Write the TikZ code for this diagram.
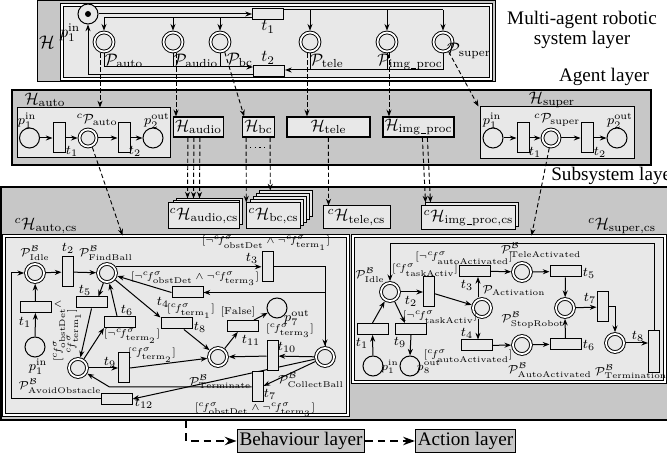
\documentclass[tikz,border=0pt]{standalone}
\usepackage{fontspec}
\newfontfamily\layerfont{Liberation Serif}
\usetikzlibrary{arrows.meta,calc}

\newlength{\pxu}
\setlength{\pxu}{0.6pt}
\definecolor{boxdark}{gray}{0.78}
\definecolor{boxlight}{gray}{0.91}

\newcommand\netfont{\fontsize{8}{9}\selectfont}
\newcommand\plfont{\fontsize{7}{8}\selectfont}
\newcommand\guardfont{\fontsize{6}{7}\selectfont}
\newcommand\toplayerfont{\layerfont\fontsize{11.5}{12.5}\selectfont}
\newcommand\gcf[1]{{}^{c}\!f^{\sigma}_{\mathrm{#1}}}
\newcommand\usc{\kern0.04em\rule[-0.1ex]{0.3em}{0.06ex}\kern0.04em}

\pgfdeclarelayer{boxes}
\pgfdeclarelayer{edges}
\pgfsetlayers{boxes,edges,main}

\tikzset{
  arr/.style={line width=0.6pt, -{Stealth[length=4pt,width=3pt]}},
  plain/.style={line width=0.6pt},
  link/.style={line width=0.55pt, dash pattern=on 2.6pt off 1.6pt, -{Stealth[length=4pt,width=3pt]}},
  bigdash/.style={line width=1.1pt, dash pattern=on 4.5pt off 3pt, -{Stealth[length=7pt,width=5pt]}},
  pl/.style={circle, draw, fill=boxlight, line width=0.6pt, minimum size=20*\pxu, inner sep=0pt},
  cpl/.style={circle, draw, double, double distance=1.1pt, fill=boxlight, line width=0.55pt, minimum size=18*\pxu, inner sep=0pt, outer sep=1.1pt},
  trh/.style={rectangle, draw, fill=boxlight, line width=0.6pt, minimum width=31*\pxu, minimum height=11*\pxu, inner sep=0pt},
  trv/.style={rectangle, draw, fill=boxlight, line width=0.6pt, minimum width=11*\pxu, minimum height=30*\pxu, inner sep=0pt},
  hbox/.style={rectangle, draw, fill=boxlight, line width=0.7pt, minimum height=20*\pxu, inner sep=1pt},
  csbox/.style={rectangle, draw, fill=boxlight, line width=0.6pt, inner sep=1pt},
  frame/.style={rectangle, draw, inner sep=0pt},
  lbl/.style={inner sep=0pt, font=\netfont},
  plbl/.style={inner sep=0pt, font=\plfont},
  grd/.style={inner sep=0pt, font=\guardfont},
  big/.style={inner sep=0pt},
  layertag/.style={inner sep=0pt, font=\toplayerfont},
  layerbox/.style={rectangle, draw, fill=boxdark, line width=0.6pt, font=\toplayerfont, inner sep=1.5pt, minimum height=22*\pxu},
}

\begin{document}
\begin{tikzpicture}[x=0.6pt, y=-0.6pt]
\useasboundingbox (0,0) rectangle (667,459);

% ---------- frames ----------
\begin{pgfonlayer}{boxes}
  \node[frame, fill=boxdark, line width=0.6pt, minimum width=458*\pxu, minimum height=81*\pxu] (masframe) at (266,41.5) {};
  \node[frame, double, double distance=1pt, fill=boxlight, line width=0.5pt, minimum width=429*\pxu, minimum height=74*\pxu] (masnet) at (276.5,42) {};
  \node[frame, fill=boxdark, line width=0.8pt, minimum width=639*\pxu, minimum height=75*\pxu] (agframe) at (331.5,127.5) {};
  \node[frame, fill=boxlight, line width=0.6pt, minimum width=153*\pxu, minimum height=50*\pxu] (hautobox) at (93.5,133) {};
  \node[frame, fill=boxlight, line width=0.6pt, minimum width=154*\pxu, minimum height=52*\pxu] (hsuperbox) at (557,133) {};
  \node[frame, fill=boxdark, line width=0.8pt, minimum width=676*\pxu, minimum height=233*\pxu] (subframe) at (339,303.5) {};
  \node[frame, double, double distance=1pt, fill=boxlight, line width=0.5pt, minimum width=344*\pxu, minimum height=179*\pxu] (autocs) at (176,325.5) {};
  \node[frame, double, double distance=1pt, fill=boxlight, line width=0.5pt, minimum width=312*\pxu, minimum height=146*\pxu] (supercs) at (509,309) {};
\end{pgfonlayer}

% ---------- layer captions ----------
\node[layertag, align=center] (tmulti) at (582,30) {Multi-agent robotic\\system layer};
\node[layertag] (tagent) at (604,77) {Agent layer};
\node[layertag, anchor=west] (tsub) at (551,176) {Subsystem layer};

% ---------- multi-agent robotic system net ----------
\node[big, font=\fontsize{10.95}{12}\selectfont] (lH) at (47,42) {$\mathcal{H}$};
\node[pl] (p1) at (88,14) {};
\fill (p1.center) circle [radius=1.8pt];
\node[cpl, minimum size=19*\pxu] (pauto) at (104,42) {};
\node[cpl, minimum size=19*\pxu] (paudio) at (173,42) {};
\node[cpl, minimum size=19*\pxu] (pbc) at (220,42) {};
\node[cpl, minimum size=19*\pxu] (ptele) at (310,42) {};
\node[cpl, minimum size=19*\pxu] (pimg) at (387,42) {};
\node[cpl, minimum size=19*\pxu] (psuper) at (443,42) {};
\node[trh] (mt1) at (268,14) {};
\node[trh] (mt2) at (269,71) {};

\node[big] (lpin) at (70,33) {$p^{\mathrm{in}}_1$};
\node[big] (lmt1) at (268,27) {$t_1$};
\node[big] (lmt2) at (268,58) {$t_2$};
\node[big] (lpauto) at (124,61) {$\mathcal{P}_{\mathrm{auto}}$};
\node[big] (lpaudio) at (196,61) {$\mathcal{P}_{\mathrm{audio}}$};
\node[big] (lpbc) at (240,60) {$\mathcal{P}_{\mathrm{bc}}$};
\node[big] (lptele) at (327,61) {$\mathcal{P}_{\mathrm{tele}}$};
\node[big] (lpimg) at (410,62) {$\mathcal{P}_{\mathrm{img\usc proc}}$};
\node[big] (lpsuper) at (469,51) {$\mathcal{P}_{\mathrm{super}}$};

% ---------- agent layer ----------
\node[big] (lHauto) at (45,100) {$\mathcal{H}_{\mathrm{auto}}$};
\node[big] (lHsuper) at (552,100) {$\mathcal{H}_{\mathrm{super}}$};

\node[pl] (ap1) at (29.5,138) {};
\node[trv, minimum width=12*\pxu] (at1) at (59,138) {};
\node[cpl, minimum size=17*\pxu] (acp) at (88,138) {};
\node[trv, minimum width=12*\pxu] (at2) at (124,138) {};
\node[pl] (ap2) at (153,138) {};
\node[lbl] (lap1) at (27,121) {$p^{\mathrm{in}}_1$};
\node[lbl] (lat1) at (72,151) {$t_1$};
\node[lbl] (lacp) at (97,120) {${}^{c}\mathcal{P}_{\mathrm{auto}}$};
\node[lbl] (lat2) at (135,151) {$t_2$};
\node[lbl] (lap2) at (157,121) {$p^{\mathrm{out}}_2$};

\node[pl] (sp1) at (493,138) {};
\node[trv, minimum width=12*\pxu] (st1) at (523,138) {};
\node[cpl, minimum size=17*\pxu] (scp) at (551,138) {};
\node[trv, minimum width=12*\pxu] (st2) at (587,138) {};
\node[pl] (sp2) at (617,138) {};
\node[lbl] (lsp1) at (492,121) {$p^{\mathrm{in}}_1$};
\node[lbl] (lst1) at (535,152) {$t_1$};
\node[lbl] (lscp) at (557,120) {${}^{c}\mathcal{P}_{\mathrm{super}}$};
\node[lbl] (lst2) at (600,152) {$t_2$};
\node[lbl] (lsp2) at (620,121) {$p^{\mathrm{out}}_2$};

\node[hbox, minimum width=45*\pxu] (haudio) at (198.5,127) {$\mathcal{H}_{\mathrm{audio}}$};
\node[hbox, minimum width=31*\pxu] (hbc) at (258.5,127) {$\mathcal{H}_{\mathrm{bc}}$};
\node[hbox, minimum width=83*\pxu] (htele) at (328.5,127) {$\mathcal{H}_{\mathrm{tele}}$};
\node[hbox, minimum width=65*\pxu] (himg) at (418.5,127) {$\mathcal{H}_{\mathrm{img\usc proc}}$};

% ---------- subsystem stacks ----------
\foreach \k in {2,1}
  \draw[fill=boxlight, line width=0.6pt] ($(171,203)+(2.5*\k,-2*\k)$) rectangle +(66,26);
\node[csbox, minimum width=66*\pxu, minimum height=26*\pxu] (csaudio) at (204,216) {${}^{c}\mathcal{H}_{\mathrm{audio,cs}}$};
\foreach \k in {4,3,2,1}
  \draw[fill=boxlight, line width=0.6pt] ($(247,203)+(3*\k,-3*\k)$) rectangle +(53,26);
\node[csbox, minimum width=53*\pxu, minimum height=26*\pxu] (csbc) at (273.5,216) {${}^{c}\mathcal{H}_{\mathrm{bc,cs}}$};
\node[csbox, minimum width=67*\pxu, minimum height=23*\pxu] (cstele) at (356.5,217.5) {${}^{c}\mathcal{H}_{\mathrm{tele,cs}}$};
\draw[fill=boxlight, line width=0.6pt] ($(422,206)+(3,-3)$) rectangle +(93,24);
\node[csbox, minimum width=93*\pxu, minimum height=24*\pxu] (csimg) at (468.5,218) {${}^{c}\mathcal{H}_{\mathrm{img\usc proc,cs}}$};

\node[big] (lautocs) at (46,226) {${}^{c}\mathcal{H}_{\mathrm{auto,cs}}$};
\node[big] (lsupercs) at (622,226) {${}^{c}\mathcal{H}_{\mathrm{super,cs}}$};

% ---------- behaviour net of the auto agent ----------
\node[cpl] (idle) at (35,273) {};
\node[trv] (t2) at (67.5,272) {};
\node[cpl] (fb) at (107,273) {};
\node[trh] (t1) at (35.5,307) {};
\node[pl] (ip1) at (35,347) {};
\node[trh] (t5) at (91.5,302.5) {};
\node[trh] (t6) at (120,322) {};
\node[cpl] (avoid) at (78,368) {};
\node[trh] (t4) at (187.5,292.5) {};
\node[trv] (t3) at (267.5,267) {};
\node[trh] (t8) at (176.5,323.5) {};
\node[trh] (t11) at (242.5,326) {};
\node[pl] (p7) at (277,308) {};
\node[cpl] (term) at (218,357) {};
\node[trv] (t10) at (272.5,356) {};
\node[cpl] (cb) at (325,357) {};
\node[trv] (t9) at (124,368) {};
\node[trv] (t7) at (257.5,387) {};
\node[trh] (t12) at (116.5,399) {};

\node[plbl] (lidle) at (35,253) {$\mathcal{P}^{\mathcal{B}}_{\mathrm{Idle}}$};
\node[plbl] (lfb) at (106,253) {$\mathcal{P}^{\mathcal{B}}_{\mathrm{FindBall}}$};
\node[plbl] (lavoid) at (60,386) {$\mathcal{P}^{\mathcal{B}}_{\mathrm{AvoidObstacle}}$};
\node[plbl] (lterm) at (220,382) {$\mathcal{P}^{\mathcal{B}}_{\mathrm{Terminate}}$};
\node[plbl] (lcb) at (311,380) {$\mathcal{P}^{\mathcal{B}}_{\mathrm{CollectBall}}$};
\node[lbl] (lip1) at (38,367) {$p^{\mathrm{in}}_1$};
\node[lbl] (lp7) at (297,318) {$p^{\mathrm{out}}_7$};
\node[lbl] (lt1) at (25,322) {$t_1$};
\node[lbl] (lt2) at (68,248) {$t_2$};
\node[lbl] (lt3) at (252,258) {$t_3$};
\node[lbl] (lt4) at (163,302) {$t_4$};
\node[lbl] (lt5) at (85,290) {$t_5$};
\node[lbl] (lt6) at (127,310) {$t_6$};
\node[lbl] (lt7) at (270,394) {$t_7$};
\node[lbl] (lt8) at (200,327) {$t_8$};
\node[lbl] (lt9) at (110,362) {$t_9$};
\node[lbl] (lt10) at (287,347) {$t_{10}$};
\node[lbl] (lt11) at (251,340) {$t_{11}$};
\node[lbl] (lt12) at (144,403) {$t_{12}$};

\node[grd] (g3) at (266,243) {$[\neg\gcf{obstDet}\wedge\neg\gcf{term_1}]$};
\node[grd] (g4) at (195,279) {$[\neg\gcf{obstDet}\wedge\neg\gcf{term_3}]$};
\node[grd] (g8) at (191,311) {$[\gcf{term_1}]$};
\node[grd] (g11) at (238,312) {$[\mathrm{False}]$};
\node[grd] (g10) at (290,331) {$[\gcf{term_3}]$};
\node[grd] (g6) at (132,336) {$[\neg\gcf{term_2}]$};
\node[grd] (g9) at (152,355) {$[\gcf{term_2}]$};
\node[grd] (g7) at (255,410) {$[\gcf{obstDet}\wedge\neg\gcf{term_3}]$};
\node[grd, rotate=90, align=center] (g5) at (67,331) {$[\gcf{obstDet}\wedge$\\$\gcf{term_1}]$};

% ---------- behaviour net of the supervisor agent ----------
\node[cpl] (idle2) at (390,292) {};
\node[trv] (t2b) at (429,292) {};
\node[cpl] (act) at (482,308) {};
\node[trh] (t3b) at (475,271) {};
\node[cpl] (tele) at (522,272) {};
\node[trh] (t5b) at (565.5,271.5) {};
\node[cpl] (stop) at (565,308) {};
\node[trv] (t7b) at (602.5,307) {};
\node[cpl] (term2) at (615,343) {};
\node[trv, minimum height=42*\pxu] (t8b) at (654,352) {};
\node[trh] (t4b) at (477,345.5) {};
\node[cpl] (auto) at (522,345) {};
\node[trh] (t6b) at (565.5,344) {};
\node[trh] (t1b) at (372.5,329) {};
\node[pl] (p1b) at (373,366) {};
\node[trh] (t9b) at (411,329) {};
\node[pl] (p8) at (410,366) {};

\node[plbl] (lidle2) at (370,275) {$\mathcal{P}^{\mathcal{B}}_{\mathrm{Idle}}$};
\node[grd] (g2b) at (425,270) {$[\gcf{taskActiv}]$};
\node[lbl] (lt2b) at (411,301) {$t_2$};
\node[plbl] (lact) at (514,291) {$\mathcal{P}_{\mathrm{Activation}}$};
\node[grd] (g3b) at (464,258) {$[\neg\gcf{autoActivated}]$};
\node[lbl] (lt3b) at (467,285) {$t_3$};
\node[plbl] (ltele) at (541,250) {$\mathcal{P}^{\mathcal{B}}_{\mathrm{TeleActivated}}$};
\node[lbl] (lt5b) at (589,273) {$t_5$};
\node[plbl] (lstop) at (533,320) {$\mathcal{P}^{\mathcal{B}}_{\mathrm{StopRobot}}$};
\node[lbl] (lt7b) at (590,298) {$t_7$};
\node[plbl] (lterm2) at (631,372) {$\mathcal{P}^{\mathcal{B}}_{\mathrm{Termination}}$};
\node[lbl] (lt8b) at (638,336) {$t_8$};
\node[grd] (g4b) at (468,356) {$[\gcf{autoActivated}]$};
\node[lbl] (lt4b) at (467,333) {$t_4$};
\node[plbl] (lauto) at (550,370) {$\mathcal{P}^{\mathcal{B}}_{\mathrm{AutoActivated}}$};
\node[lbl] (lt6b) at (589,345) {$t_6$};
\node[lbl] (lt1b) at (362,343) {$t_1$};
\node[plbl] (lp1b) at (390,367) {$p^{\mathrm{in}}_1$};
\node[lbl] (lt9b) at (400,342) {$t_9$};
\node[grd] (g9b) at (440,317) {$[\neg\gcf{taskActiv}]$};
\node[plbl] (lp8) at (429,367) {$p^{\mathrm{out}}_8$};

% ---------- lower layers ----------
\node[layerbox] (behl) at (301,441) {Behaviour layer};
\node[layerbox] (actl) at (465.5,441) {Action layer};

% ---------- connectors ----------
\begin{pgfonlayer}{edges}
  % multi-agent net
  \draw[arr] (p1) -- (mt1);
  \coordinate (tr) at ($(mt1.east)+(0,-4)$);
  \coordinate (tl) at ($(mt1.east)+(0,4)$);
  \draw[plain] (tr) -- (tr -| psuper);
  \foreach \p in {ptele,pimg,psuper} \draw[arr] (tr -| \p) -- (\p.north);
  \draw[plain] (tl) -- (tl -| pauto);
  \foreach \p in {pauto,paudio,pbc} \draw[arr] (tl -| \p) -- (\p.north);
  \coordinate (bl) at ($(mt2.west)+(0,-4)$);
  \coordinate (br) at ($(mt2.east)+(0,-1)$);
  \coordinate (bo) at ($(mt2.west)+(0,4)$);
  \foreach \p in {pauto,paudio,pbc} \draw[plain] (\p.south) -- (\p.south |- bl);
  \draw[arr] (bl -| pauto) -- (bl);
  \foreach \p in {ptele,pimg,psuper} \draw[plain] (\p.south) -- (\p.south |- br);
  \draw[arr] (br -| psuper) -- (br);
  \draw[arr] (bo) -| (p1.south);

  % refinement links: system -> agents
  \coordinate (d1) at ($(pauto.south)+(-4,0)$);
  \draw[link] (d1) -- (d1 |- hautobox.north);
  \coordinate (d2) at ($(paudio.south)+(3,0)$);
  \draw[link] (d2) -- (d2 |- haudio.north);
  \draw[link] (pbc.295) -- ($(hbc.north west)+(2,0)$);
  \coordinate (d4) at ($(ptele.south)+(-3,0)$);
  \draw[link] (d4) -- (d4 |- htele.north);
  \coordinate (d5) at ($(pimg.south)+(2,0)$);
  \draw[link] (d5) -- (d5 |- himg.north);
  \draw[link] (psuper.300) -- ($(hsuperbox.north west)+(-1,0)$);

  % agent nets
  \draw[arr] (ap1) -- (at1);
  \draw[arr] (at1) -- (acp);
  \draw[arr] (acp) -- (at2);
  \draw[arr] (at2) -- (ap2);
  \draw[arr] (sp1) -- (st1);
  \draw[arr] (st1) -- (scp);
  \draw[arr] (scp) -- (st2);
  \draw[arr] (st2) -- (sp2);

  % refinement links: agents -> subsystems
  \foreach \a/\b in {15/20,21/26,27/32}
    \draw[link] ($(haudio.south west)+(\a,0)$) -- ($(csaudio.north west)+(\b,-4)$);
  \draw[link] ($(hbc.south west)+(4,0)$) -- (csbc.north west);
  \draw[link] ($(hbc.south west)+(28,0)$) -- ($(csbc.north west)+(24,-12)$);
  \draw[dotted, line width=0.8pt] ($(hbc.south west)+(8,10)$) -- ($(hbc.south west)+(24,10)$);
  \draw[link] ($(htele.south west)+(42,0)$) -- ($(cstele.north west)+(6,0)$);
  \draw[link] ($(himg.south west)+(40,0)$) -- ($(csimg.north west)+(4,-3)$);
  \draw[link] ($(himg.south west)+(45,0)$) -- ($(csimg.north west)+(9,-3)$);
  \draw[link] (acp.-65) -- ($(autocs.north west)+(119,0)$);
  \draw[link] (scp.-100) -- ($(supercs.north west)+(179,0)$);

  % auto behaviour net
  \draw[arr] (ip1) -- (t1);
  \draw[arr] (t1) -- (idle);
  \draw[arr] (idle) -- (t2);
  \draw[arr] (t2) -- (fb);
  \draw[arr] (fb) -- ($(t5.north east)+(-9,0)$);
  \draw[arr] (t5.south) -- (avoid);
  \draw[arr] (avoid) -- (t6.south west);
  \draw[arr] ($(t6.north)+(-3,0)$) -- (fb);
  \draw[arr] (avoid) -- (t9.west);
  \draw[arr] (t9.east) -- (term);
  \draw[arr] (fb) -- (t8.north west);
  \draw[arr] (t8) -- (term);
  \draw[arr] (fb.35) -- (fb.35 -| t3.west);
  \draw[arr] (t3.east) -| (cb.north);
  \draw[arr] (cb.north) |- (t4.east);
  \draw[arr] (t4.west) -- (fb);
  \draw[arr] (cb) -- (t10);
  \draw[arr] (t10) -- (term);
  \draw[arr] (term) -- (t11);
  \draw[arr] (t11) -- (p7);
  \draw[arr] (cb) -- (t7.10);
  \coordinate (bend7) at ($(t12.north west)+(9,-6.5)$);
  \draw[arr] (t7.west) -- (t7.west -| bend7) -- (avoid);
  \draw[arr] (cb) -- (t12.east);
  \draw[arr] (t12.west) -- ++(-89.5,0) |- (idle.west);

  % supervisor behaviour net
  \draw[arr] (idle2) -- (t2b);
  \draw[arr] (t2b) -- (act);
  \coordinate (a3) at ($(act.north)+(-4,0)$);
  \draw[arr] (a3) -- (a3 |- t3b.south);
  \draw[arr] (t3b) -- (tele);
  \draw[arr] (tele) -- (t5b);
  \draw[arr] (t5b) -- (stop);
  \draw[arr] (stop) -- (t7b);
  \draw[arr] (t7b.east) -| (term2.north);
  \draw[arr] (term2) -- (term2 -| t8b.west);
  \coordinate (ltop) at ($(idle2.north)+(0,-38)$);
  \draw[arr] (t8b.north) |- (ltop) -- (idle2.north);
  \coordinate (a4) at ($(act.south)+(-4,0)$);
  \draw[arr] (a4) -- (a4 |- t4b.north);
  \draw[arr] (t4b) -- (auto);
  \draw[arr] (auto) -- (t6b);
  \draw[arr] (t6b.north) -- (stop.south);
  \draw[arr] (p1b) -- (t1b);
  \draw[arr] (t1b.north) -- (idle2);
  \draw[arr] (idle2) -- ($(t9b.north)+(-6,0)$);
  \draw[arr] (t9b.south) -- (p8.north);

  % towards the lower layers
  \coordinate (bstart) at ($(subframe.south west)+(186,0)$);
  \draw[bigdash] (bstart) |- (behl.west);
  \draw[bigdash] (behl.east) -- (actl.west);
\end{pgfonlayer}
\end{tikzpicture}
\end{document}
